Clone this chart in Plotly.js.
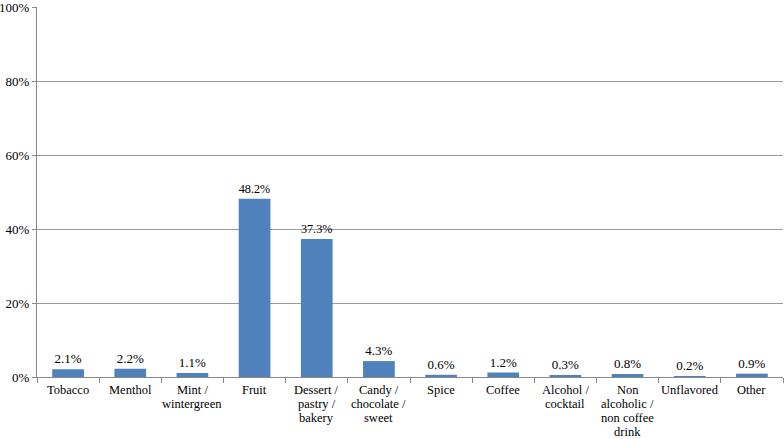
<!DOCTYPE html>
<html>
<head>
<meta charset="utf-8">
<script src="https://cdn.plot.ly/plotly-3.0.1.min.js"></script>
<style>
  html, body { margin: 0; padding: 0; background: #fff; }
  #chart { width: 784px; height: 439px; }
</style>
</head>
<body>
<div id="chart"></div>
<script>
// flavour categories and share of respondents (%)
var categories = ["Tobacco", "Menthol", "Mint / wintergreen", "Fruit", "Dessert / pastry / bakery",
  "Candy / chocolate / sweet", "Spice", "Coffee", "Alcohol / cocktail",
  "Non alcoholic / non coffee drink", "Unflavored", "Other"];
// how each category label wraps under the axis
var labelLines = [["Tobacco"], ["Menthol"], ["Mint /", "wintergreen"], ["Fruit"],
  ["Dessert /", "pastry /", "bakery"], ["Candy /", "chocolate /", "sweet"], ["Spice"], ["Coffee"],
  ["Alcohol /", "cocktail"], ["Non", "alcoholic /", "non coffee", "drink"], ["Unflavored"], ["Other"]];
var percents = [2.1, 2.2, 1.1, 48.2, 37.3, 4.3, 0.6, 1.2, 0.3, 0.8, 0.2, 0.9];
var yTicks = [0, 20, 40, 60, 80, 100];

var serif = "Times New Roman";

var trace = {
  x: categories,
  y: percents,
  type: "bar",
  marker: {color: "#4F81BD"},
  text: percents.map(function (v) { return v.toFixed(1) + "%"; }),
  textposition: "outside",
  textfont: {family: serif, size: 13, color: "#000"},
  cliponaxis: false,
  hoverinfo: "x+y"
};

// category labels, one annotation per line so the spacing is tight like the original
var annotations = [];
categories.forEach(function (c, i) {
  labelLines[i].forEach(function (line, j) {
    annotations.push({
      x: c, y: 0, xref: "x", yref: "y",
      text: line, showarrow: false, borderpad: 0,
      yanchor: "middle", yshift: -(13 + 14 * j),
      font: {family: serif, size: 12.5, color: "#000"}
    });
  });
});

var layout = {
  width: 784,
  height: 439,
  margin: {l: 37, r: 1, t: 7, b: 62},
  paper_bgcolor: "#fff",
  plot_bgcolor: "#fff",
  bargap: 0.49,
  showlegend: false,
  font: {family: serif, size: 13, color: "#000"},
  annotations: annotations,
  xaxis: {
    type: "category",
    tickson: "boundaries",
    ticks: "outside",
    ticklen: 5,
    tickcolor: "#888",
    showline: true,
    linecolor: "#888",
    showgrid: false,
    showticklabels: false
  },
  yaxis: {
    range: [0, 100],
    tickvals: yTicks,
    ticktext: yTicks.map(function (v) { return v + "%"; }),
    ticks: "outside",
    ticklen: 4,
    tickcolor: "#888",
    showline: true,
    linecolor: "#888",
    gridcolor: "#9a9a9a",
    zeroline: false,
    ticklabeloverflow: "allow",
    tickfont: {family: serif, size: 13, color: "#000"}
  }
};

Plotly.newPlot("chart", [trace], layout, {displayModeBar: false});
</script>
</body>
</html>
